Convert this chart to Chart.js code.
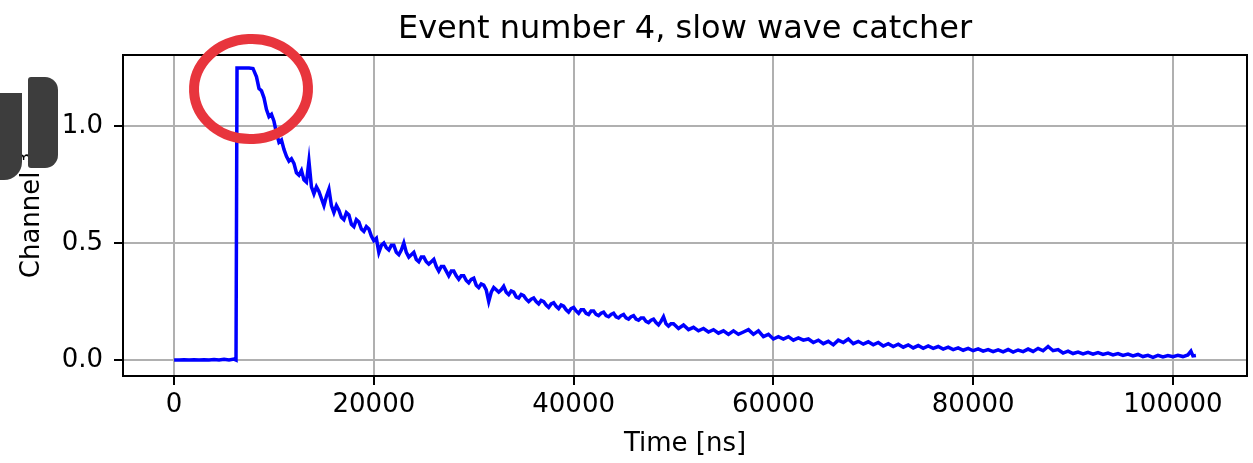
<!DOCTYPE html>
<html>
<head>
<meta charset="utf-8">
<script src="https://cdn.jsdelivr.net/npm/chart.js@4.4.1/dist/chart.umd.min.js"></script>
<style>
  html, body { margin: 0; padding: 0; background: #fff; }
  #wrap { width: 1253px; height: 463px; position: relative; }
</style>
</head>
<body>
<div id="wrap"><canvas id="waveChart" width="1253" height="463"></canvas></div>
<script>
// Waveform (time in ns, amplitude in channel units)
const timeNs = [
  0, 500, 1000, 1500, 2000, 2500, 3000, 3500, 4000, 4500, 5000, 5500, 6000, 6200,
  6300, 7000, 7500, 7900,
  8000, 8250, 8500, 8750, 9000, 9250, 9500, 9750, 10000, 10250, 10500, 10750,
  11000, 11250, 11500, 11750, 12000, 12250, 12500, 12750, 13000, 13250, 13500, 13750,
  14000, 14250, 14500, 14750, 15000, 15250, 15500, 15750, 16000, 16250, 16500, 16750,
  17000, 17250, 17500, 17750, 18000, 18250, 18500, 18750, 19000, 19250, 19500, 19750,
  20000, 20250, 20500, 20750, 21000, 21250, 21500, 21750, 22000, 22250, 22500, 22750,
  23000, 23250, 23500, 23750, 24000, 24250, 24500, 24750, 25000, 25250, 25500, 25750,
  26000, 26250, 26500, 26750, 27000, 27250, 27500, 27750, 28000, 28250, 28500, 28750,
  29000, 29250, 29500, 29750, 30000, 30250, 30500, 30750, 31000, 31250, 31500, 31750,
  32000, 32250, 32500, 32750, 33000, 33250, 33500, 33750, 34000, 34250, 34500, 34750,
  35000, 35250, 35500, 35750, 36000, 36250, 36500, 36750, 37000, 37250, 37500, 37750,
  38000, 38250, 38500, 38750, 39000, 39250, 39500, 39750, 40000, 40250, 40500, 40750,
  41000, 41250, 41500, 41750, 42000, 42250, 42500, 42750, 43000, 43250, 43500, 43750,
  44000, 44250, 44500, 44750, 45000, 45250, 45500, 45750, 46000, 46250, 46500, 46750,
  47000, 47250, 47500, 47750, 48000, 48250, 48500, 48750, 49000, 49250, 49500, 49750,
  50000, 50500, 51000, 51500, 52000, 52500, 53000, 53500, 54000, 54500, 55000, 55500,
  56000, 56500, 57000, 57500, 58000, 58500, 59000, 59500, 60000, 60500, 61000, 61500,
  62000, 62500, 63000, 63500, 64000, 64500, 65000, 65500, 66000, 66500, 67000, 67500,
  68000, 68500, 69000, 69500, 70000, 70500, 71000, 71500, 72000, 72500, 73000, 73500,
  74000, 74500, 75000, 75500, 76000, 76500, 77000, 77500, 78000, 78500, 79000, 79500,
  80000, 80500, 81000, 81500, 82000, 82500, 83000, 83500, 84000, 84500, 85000, 85500,
  86000, 86500, 87000, 87500, 88000, 88500, 89000, 89500, 90000, 90500, 91000, 91500,
  92000, 92500, 93000, 93500, 94000, 94500, 95000, 95500, 96000, 96500, 97000, 97500,
  98000, 98500, 99000, 99500, 100000, 100500, 101000, 101500, 101800, 102000, 102300
];

const channel3 = [
  0.000, 0.000, 0.001, 0.000, 0.001, 0.000, 0.001, 0.000, 0.002, 0.000, 0.003, 0.000, 0.004, 0.000,
  1.247, 1.247, 1.247, 1.245,
  1.235, 1.210, 1.160, 1.150, 1.120, 1.070, 1.040, 1.050, 1.020, 0.970, 0.930, 0.940,
  0.900, 0.870, 0.850, 0.860, 0.840, 0.800, 0.790, 0.810, 0.770, 0.760, 0.850, 0.740,
  0.710, 0.740, 0.720, 0.690, 0.660, 0.700, 0.730, 0.660, 0.630, 0.660, 0.640, 0.610,
  0.600, 0.630, 0.620, 0.580, 0.570, 0.600, 0.590, 0.560, 0.550, 0.570, 0.560, 0.530,
  0.510, 0.520, 0.460, 0.490, 0.500, 0.480, 0.470, 0.490, 0.490, 0.460, 0.450, 0.470,
  0.500, 0.460, 0.440, 0.450, 0.460, 0.430, 0.420, 0.440, 0.440, 0.420, 0.410, 0.420,
  0.430, 0.400, 0.380, 0.400, 0.400, 0.380, 0.360, 0.380, 0.380, 0.360, 0.345, 0.360,
  0.360, 0.340, 0.330, 0.345, 0.350, 0.320, 0.310, 0.325, 0.320, 0.300, 0.250, 0.290,
  0.310, 0.300, 0.290, 0.300, 0.315, 0.290, 0.280, 0.295, 0.290, 0.270, 0.265, 0.280,
  0.275, 0.260, 0.250, 0.260, 0.265, 0.250, 0.240, 0.255, 0.250, 0.235, 0.225, 0.240,
  0.245, 0.230, 0.220, 0.235, 0.230, 0.215, 0.205, 0.220, 0.225, 0.210, 0.200, 0.215,
  0.215, 0.200, 0.195, 0.210, 0.210, 0.195, 0.190, 0.200, 0.205, 0.190, 0.185, 0.195,
  0.200, 0.185, 0.180, 0.190, 0.195, 0.180, 0.175, 0.185, 0.190, 0.175, 0.170, 0.180,
  0.180, 0.165, 0.160, 0.170, 0.175, 0.160, 0.150, 0.165, 0.185, 0.155, 0.145, 0.155,
  0.155, 0.135, 0.150, 0.130, 0.140, 0.125, 0.135, 0.120, 0.130, 0.115, 0.125, 0.110,
  0.125, 0.110, 0.120, 0.130, 0.110, 0.125, 0.100, 0.110, 0.090, 0.100, 0.090, 0.100,
  0.085, 0.095, 0.085, 0.090, 0.075, 0.085, 0.070, 0.080, 0.065, 0.085, 0.075, 0.090,
  0.070, 0.080, 0.068, 0.078, 0.065, 0.075, 0.060, 0.070, 0.058, 0.068, 0.055, 0.065,
  0.052, 0.062, 0.050, 0.060, 0.050, 0.058, 0.047, 0.055, 0.045, 0.052, 0.042, 0.050,
  0.040, 0.048, 0.038, 0.045, 0.036, 0.044, 0.035, 0.045, 0.034, 0.043, 0.036, 0.047,
  0.037, 0.050, 0.040, 0.058, 0.040, 0.045, 0.030, 0.038, 0.028, 0.034, 0.026, 0.033,
  0.025, 0.032, 0.024, 0.030, 0.022, 0.028, 0.020, 0.026, 0.018, 0.024, 0.015, 0.020,
  0.012, 0.020, 0.013, 0.019, 0.014, 0.020, 0.015, 0.022, 0.038, 0.018, 0.020
];

const xTicks = [0, 20000, 40000, 60000, 80000, 100000];
const yTicks = [0.0, 0.5, 1.0];

const chartTitle = 'Event number 4, slow wave catcher';
const xTitle = 'Time [ns]';
const yTitle = 'Channel \u00B3';

const FONT = "'DejaVu Sans', sans-serif";

// frame around the plot area (matplotlib spines) + title centred over the axes
const framePlugin = {
  id: 'frame',
  afterDatasetsDraw(chart) {
    const { ctx, chartArea: a } = chart;
    ctx.save();
    ctx.strokeStyle = '#000';
    ctx.lineWidth = 2;
    ctx.strokeRect(a.left, a.top, a.right - a.left, a.bottom - a.top);

    ctx.fillStyle = '#000';
    ctx.font = '32px ' + FONT;
    ctx.textAlign = 'center';
    ctx.textBaseline = 'alphabetic';
    ctx.fillText(chartTitle, (a.left + a.right) / 2, 38);
    ctx.restore();
  }
};

// the hand-drawn red ring and the dark blob over the y label
const overlayPlugin = {
  id: 'overlay',
  afterDraw(chart) {
    const ctx = chart.ctx;
    ctx.save();
    ctx.strokeStyle = '#e8353d';
    ctx.lineWidth = 10;
    ctx.lineCap = 'round';
    ctx.beginPath();
    ctx.ellipse(251, 89, 57, 50, -0.05, 0, Math.PI * 2);
    ctx.stroke();

    ctx.fillStyle = '#3d3d3d';
    ctx.beginPath();
    ctx.roundRect(-12, 93, 34, 87, [0, 0, 18, 0]);
    ctx.fill();
    ctx.beginPath();
    ctx.roundRect(28, 77, 30, 91, [3, 13, 13, 3]);
    ctx.fill();
    ctx.restore();
  }
};

const points = timeNs.map((t, i) => ({ x: t, y: channel3[i] }));

new Chart(document.getElementById('waveChart').getContext('2d'), {
  type: 'line',
  data: {
    datasets: [{
      data: points,
      borderColor: '#0000ff',
      borderWidth: 3.5,
      pointRadius: 0,
      tension: 0,
      fill: false
    }]
  },
  options: {
    responsive: false,
    animation: false,
    layout: { padding: { left: 0, right: 6, top: 55, bottom: 0 } },
    plugins: {
      legend: { display: false },
      tooltip: { enabled: false },
      title: { display: false }
    },
    scales: {
      x: {
        type: 'linear',
        min: -5115,
        max: 107415,
        afterBuildTicks(scale) { scale.ticks = xTicks.map(v => ({ value: v })); },
        afterFit(scale) { scale.height = 87; },
        grid: { color: '#b0b0b0', lineWidth: 2, tickColor: '#000', tickLength: 9, tickWidth: 2 },
        border: { display: false },
        ticks: {
          color: '#000',
          font: { family: FONT, size: 26 },
          padding: 5,
          maxRotation: 0,
          callback: v => String(v)
        },
        title: {
          display: true,
          text: xTitle,
          color: '#000',
          font: { family: FONT, size: 26 },
          padding: { top: 0, bottom: 3 }
        }
      },
      y: {
        type: 'linear',
        min: -0.068,
        max: 1.303,
        afterBuildTicks(scale) { scale.ticks = yTicks.map(v => ({ value: v })); },
        afterFit(scale) { scale.width = 123; },
        grid: { color: '#b0b0b0', lineWidth: 2, tickColor: '#000', tickLength: 9, tickWidth: 2 },
        border: { display: false },
        ticks: {
          color: '#000',
          font: { family: FONT, size: 26 },
          padding: 11,
          callback: v => Number(v).toFixed(1)
        },
        title: {
          display: true,
          text: yTitle,
          color: '#000',
          font: { family: FONT, size: 26 },
          padding: { top: 17, bottom: 0 }
        }
      }
    }
  },
  plugins: [framePlugin, overlayPlugin]
});
</script>
</body>
</html>
